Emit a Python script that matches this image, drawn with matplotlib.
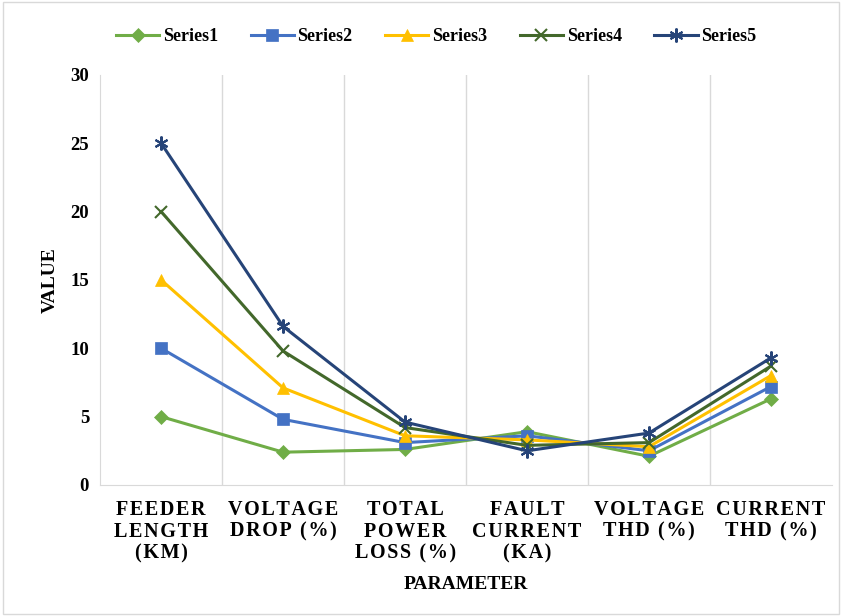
import matplotlib.pyplot as plt
from matplotlib.patches import Rectangle

# categories and values
params = ["FEEDER\nLENGTH\n(KM)", "VOLTAGE\nDROP (%)", "TOTAL\nPOWER\nLOSS (%)",
          "FAULT\nCURRENT\n(KA)", "VOLTAGE\nTHD (%)", "CURRENT\nTHD (%)"]
series1 = [5, 2.4, 2.6, 3.9, 2.1, 6.3]
series2 = [10, 4.8, 3.1, 3.6, 2.5, 7.2]
series3 = [15, 7.1, 3.6, 3.3, 2.8, 8.0]
series4 = [20, 9.8, 4.2, 2.9, 3.1, 8.7]
series5 = [25, 11.6, 4.6, 2.5, 3.8, 9.3]
names = ["Series1", "Series2", "Series3", "Series4", "Series5"]

colors = ["#70AD47", "#4472C4", "#FFC000", "#43682B", "#264478"]
markers = ["D", "s", "^", "x", (6, 2, 0)]
msizes = [7, 9, 9, 9, 10]

def spaced(txt):
    # wide letter spacing like the original labels
    return "\n".join("\u200a".join(line) for line in txt.split("\n"))

plt.rcParams["font.family"] = ["Liberation Serif", "DejaVu Serif"]
plt.rcParams["font.weight"] = "bold"

fig = plt.figure(figsize=(8.42, 6.16), dpi=100)
ax = fig.add_axes([0.119, 0.2127, 0.869, 0.6656])

x = list(range(len(params)))
for vals, name, c, m, ms in zip([series1, series2, series3, series4, series5],
                               names, colors, markers, msizes):
    ax.plot(x, vals, color=c, lw=2.2, marker=m, markersize=ms,
            markeredgewidth=1.5 if m in ("x", (6, 2, 0)) else 0.5,
            markeredgecolor=c, label=name, zorder=3)

ax.set_xlim(-0.5, 5.5)
ax.set_ylim(0, 30)
ax.set_yticks(range(0, 31, 5))
ax.set_xticks(x)
ax.set_xticklabels([spaced(p) for p in params], fontsize=14.5, fontweight="bold",
                   linespacing=1.1)
ax.tick_params(axis="y", labelsize=13.5, length=0, pad=8)
ax.tick_params(axis="x", length=0, pad=11)
for b in [0.5, 1.5, 2.5, 3.5, 4.5]:
    ax.axvline(b, color="#D9D9D9", lw=1, zorder=0)
for s in ["top", "right"]:
    ax.spines[s].set_visible(False)
ax.spines["left"].set_color("#D9D9D9")
ax.spines["bottom"].set_color("#D9D9D9")

ax.set_ylabel("VALUE", fontsize=14, fontweight="bold", labelpad=8)
ax.set_xlabel("PARAMETER", fontsize=14, fontweight="bold", labelpad=9)

fig.legend(loc="center", bbox_to_anchor=(0.518, 0.94), ncol=5, frameon=False,
           prop={"size": 13, "weight": "bold"}, handlelength=2.4,
           columnspacing=1.8, handletextpad=0.2)

fig.patches.append(Rectangle((0.004, 0.004), 0.992, 0.992, transform=fig.transFigure,
                             fill=False, edgecolor="#D9D9D9", lw=1))

plt.savefig("out.png", dpi=100)
